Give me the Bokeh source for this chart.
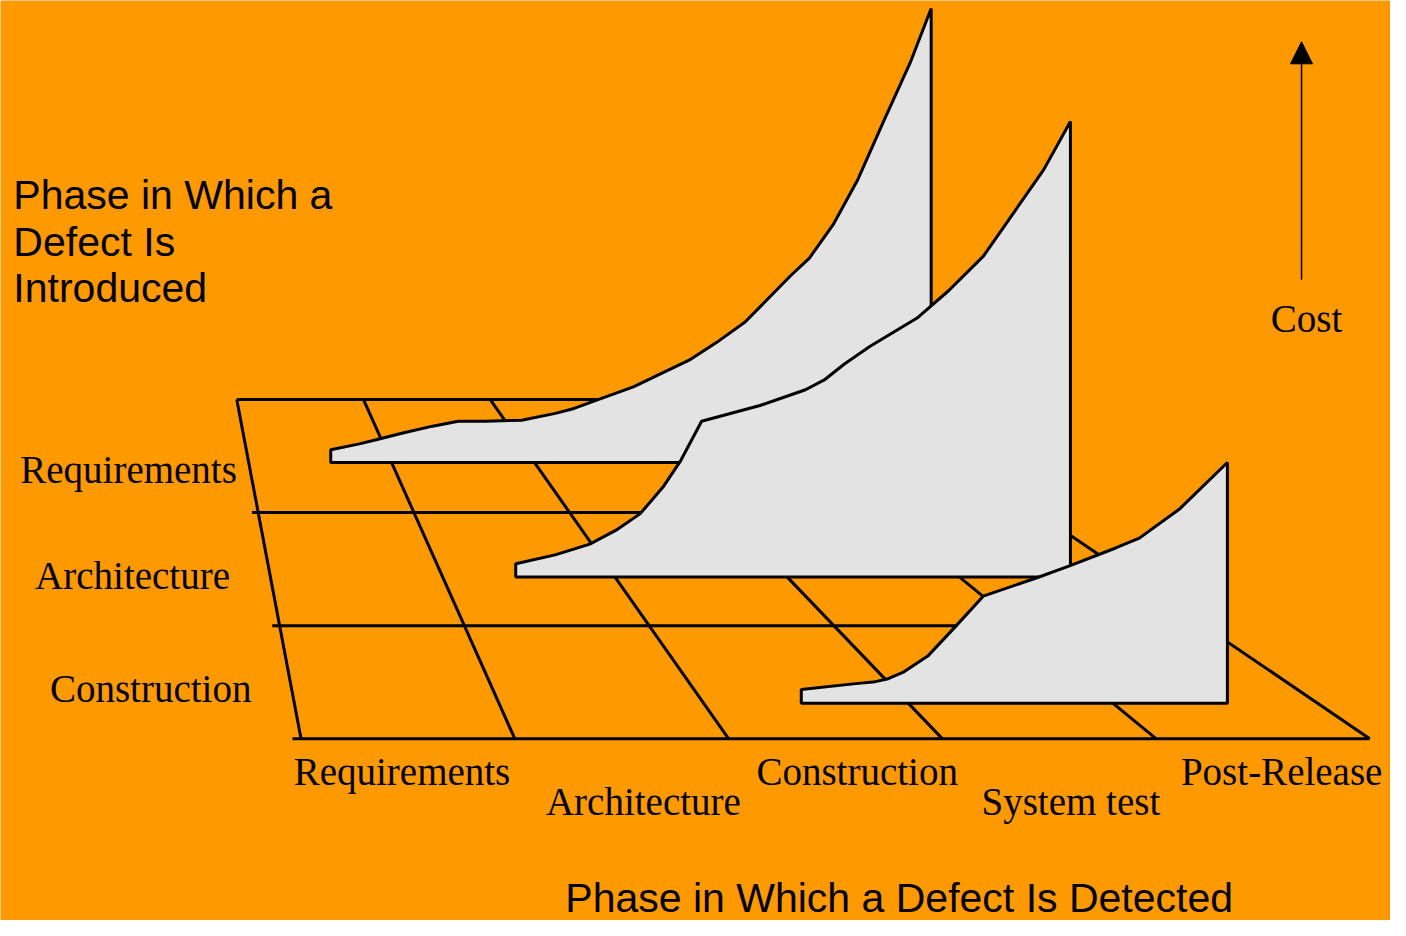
import numpy as np
from bokeh.plotting import figure
from bokeh.models import Range1d, Arrow, NormalHead
from bokeh.core.properties import value
from bokeh.embed import file_html
from bokeh.resources import INLINE

# ---------------- data ----------------
detected_phases = ["Requirements", "Architecture", "Construction", "System test", "Post-Release"]
introduced_phases = ["Requirements", "Architecture", "Construction"]

# cost curves: position along the detected-phase axis (phase units) and relative cost
req_pos = [0.574, 0.775, 0.913, 1.079, 1.287, 1.467, 1.654, 1.910, 2.146, 2.277, 2.464,
           2.692, 3.093, 3.273, 3.474, 3.792, 3.924, 4.090, 4.263, 4.443, 4.630, 4.776]
req_cost = [13, 19, 24, 30, 37, 42, 42, 43, 50, 55, 65,
            77, 105, 122, 143, 190, 208, 242, 288, 347, 407, 462]

arch_pos = [1.424, 1.653, 1.854, 2.015, 2.147, 2.279, 2.382, 2.503, 2.842, 3.106,
            3.215, 3.330, 3.479, 3.754, 3.938, 4.139, 4.489, 4.644]
arch_cost = [13.5, 22.5, 33.5, 48.5, 64.5, 91.5, 118.5, 158.5, 174.5, 190.5,
             200.5, 216.5, 234.5, 263.5, 291.5, 326.5, 414.5, 463.5]

con_pos = [2.477, 2.743, 2.839, 2.902, 2.979, 3.095, 3.230, 3.366, 3.632, 3.791,
           4.013, 4.129, 4.327, 4.559]
con_cost = [14, 20, 22, 25, 32, 48, 78, 109, 128, 140,
            158, 168, 198, 245]

# ---------------- layout / style ----------------
ORANGE = "#FF9900"
SURFACE = "#E3E3E3"
LW = 3
SERIF = value("Liberation Serif")
SANS = value("Liberation Sans")
SERIF_PX, SANS_PX = 39, 41

# oblique floor projection
Y_BACK, ROW_H = 406.0, 115.0
X_BACK, X_FRONT = 239.0, 304.0
SP_BACK, SP_FRONT = 128.2, 216.2
N_ROWS = len(introduced_phases)
N_COLS = len(detected_phases)
surface_depth = [0.557, 1.570, 2.687]

W, H = 1390, 920
XR, YR = 1406.0, 936.0
YS = YR / H  # data units per pixel (vertical)


def floor(u, v):
    u = np.asarray(u, dtype=float)
    t = v / N_ROWS
    xl = X_BACK + t * (X_FRONT - X_BACK)
    sp = SP_BACK + t * (SP_FRONT - SP_BACK)
    return xl + u * sp, Y_BACK + v * ROW_H


def base(y, size):
    # compensate the renderer's baseline placement
    return y - 0.34 * size * YS


p = figure(width=W, height=H,
           x_range=Range1d(0, XR), y_range=Range1d(YR, 0),
           output_backend="svg", toolbar_location=None, min_border=0,
           background_fill_color=ORANGE, border_fill_color=ORANGE,
           outline_line_color=None, x_axis_location=None, y_axis_location=None)
p.grid.visible = False

# floor grid
gx, gy = [], []
for r in range(N_ROWS + 1):
    u0 = 0.0 if r == 0 else -0.04
    x0, y0 = floor(u0, r)
    x1, y1 = floor(N_COLS, r)
    gx.append([float(x0), float(x1)])
    gy.append([y0, y1])
for c in range(N_COLS + 1):
    xa, ya = floor(c, 0)
    xb, yb = floor(c, N_ROWS)
    gx.append([float(xa), float(xb)])
    gy.append([ya, yb])
p.multi_line(gx, gy, line_color="black", line_width=LW)

# cost surfaces (back to front)
curves = [(req_pos, req_cost), (arch_pos, arch_cost), (con_pos, con_cost)]
for (pos, cost), depth in zip(curves, surface_depth):
    xs_curve, yb = floor(pos, depth)
    xs = [float(xs_curve[0])] + [float(v) for v in xs_curve] + [float(xs_curve[-1])]
    ys = [yb] + [yb - c for c in cost] + [yb]
    p.patch(xs, ys, fill_color=SURFACE, line_color="black", line_width=LW)

# detected-phase labels
col_dx = [-6, 22, 22, 22, 19]
stagger = [0, 1, 0, 1, 0]
bx = [float(floor(i + 0.5, N_ROWS)[0]) + col_dx[i] for i in range(N_COLS)]
by = [base(Y_BACK + N_ROWS * ROW_H + 47 + 30 * s, SERIF_PX) for s in stagger]
p.text(x=bx, y=by, text=detected_phases, text_font=SERIF, text_font_size=f"{SERIF_PX}px",
       text_align="center", text_baseline="alphabetic", text_color="black")

# introduced-phase labels
lx = [20 + 15 * i for i in range(N_ROWS)]
ly = [base(Y_BACK + (i + 0.5) * ROW_H + [27, 20, 20][i], SERIF_PX) for i in range(N_ROWS)]
p.text(x=lx, y=ly, text=introduced_phases, text_font=SERIF, text_font_size=f"{SERIF_PX}px",
       text_align="left", text_baseline="alphabetic", text_color="black")

# titles
title_lines = ["Phase in Which a", "Defect Is", "Introduced"]
p.text(x=[13] * 3, y=[base(v, SANS_PX) for v in (212, 260, 307)], text=title_lines,
       text_font=SANS, text_font_size=f"{SANS_PX}px", text_align="left",
       text_baseline="alphabetic", text_color="black")
p.text(x=[909], y=[base(927, SANS_PX)], text=["Phase in Which a Defect Is Detected"],
       text_font=SANS, text_font_size=f"{SANS_PX}px", text_align="center",
       text_baseline="alphabetic", text_color="black")

# cost arrow
p.add_layout(Arrow(x_start=1316, y_start=284, x_end=1316, y_end=42,
                   line_width=1.5, line_color="black",
                   end=NormalHead(size=22, fill_color="black", line_color="black")))
p.text(x=[1321], y=[base(337, SERIF_PX)], text=["Cost"], text_font=SERIF,
       text_font_size=f"{SERIF_PX}px", text_align="center", text_baseline="alphabetic",
       text_color="black")

open("out.html", "w").write(file_html(p, INLINE))
